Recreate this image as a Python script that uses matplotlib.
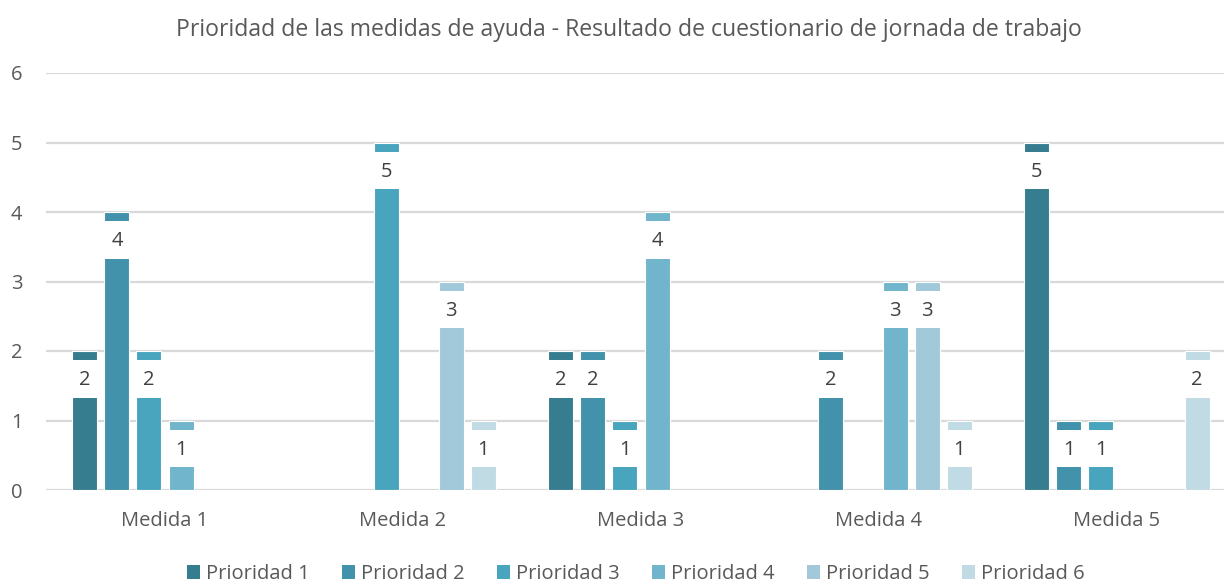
import numpy as np
import matplotlib.pyplot as plt
from matplotlib.patches import Patch

plt.rcParams['font.family'] = ['Open Sans', 'DejaVu Sans']

medidas = ['Medida 1', 'Medida 2', 'Medida 3', 'Medida 4', 'Medida 5']
prioridades = ['Prioridad 1', 'Prioridad 2', 'Prioridad 3',
               'Prioridad 4', 'Prioridad 5', 'Prioridad 6']

# votes per priority, one list per series (0 = no bar)
prioridad_1 = [2, 0, 2, 0, 5]
prioridad_2 = [4, 0, 2, 2, 1]
prioridad_3 = [2, 5, 1, 0, 1]
prioridad_4 = [1, 0, 4, 3, 0]
prioridad_5 = [0, 3, 0, 3, 0]
prioridad_6 = [0, 1, 0, 1, 2]
series = [prioridad_1, prioridad_2, prioridad_3, prioridad_4, prioridad_5, prioridad_6]

colors = ['#367d8f', '#4192aa', '#48a5bd', '#71b5cc', '#a1c9da', '#c1dbe4']

fig = plt.figure(figsize=(12.24, 5.84), dpi=100)
ax = fig.add_axes([46 / 1224, 94 / 584, 1190 / 1224, 417 / 584])

x = np.arange(len(medidas))
pitch = 0.1345
width = 0.105

for i, (vals, col) in enumerate(zip(series, colors)):
    vals = np.array(vals, dtype=float)
    pos = x + (i - 2.5) * pitch
    mask = vals > 0
    ax.bar(pos[mask], vals[mask], width=width, color=col,
           edgecolor='white', linewidth=0.8, zorder=2)
    # white label box cut into the top of each bar
    ax.bar(pos[mask], np.full(mask.sum(), 0.54), bottom=vals[mask] - 0.67,
           width=width + 0.01, color='white', linewidth=0, zorder=3)
    for px, v in zip(pos[mask], vals[mask]):
        ax.text(px, v - 0.42, f'{int(v)}', ha='center', va='center',
                fontsize=14.5, color='#404040', zorder=4)

ax.set_xlim(-0.5, 4.5)
ax.set_ylim(0, 6)
ax.set_yticks(range(7))
ax.set_xticks(x)
ax.set_xticklabels(medidas)
ax.tick_params(length=0, labelsize=14.5, labelcolor='#595959')
ax.tick_params(axis='y', pad=17)
ax.tick_params(axis='x', pad=15)
ax.grid(axis='y', color='#d9d9d9', linewidth=1.6, zorder=0)
ax.set_axisbelow(True)
for s in ax.spines.values():
    s.set_visible(False)

fig.text(629 / 1224, 1 - 30 / 584,
         'Prioridad de las medidas de ayuda - Resultado de cuestionario de jornada de trabajo',
         ha='center', va='center', fontsize=16.6, color='#595959')

handles = [Patch(facecolor=c, edgecolor='none') for c in colors]
fig.legend(handles, prioridades, loc='center', ncol=6,
           bbox_to_anchor=(636 / 1224, 1 - 574 / 584), frameon=False,
           fontsize=14.5, labelcolor='#595959', handlelength=0.65,
           handleheight=0.65, handletextpad=0.3, columnspacing=1.6)

fig.savefig('out.png', dpi=100)
